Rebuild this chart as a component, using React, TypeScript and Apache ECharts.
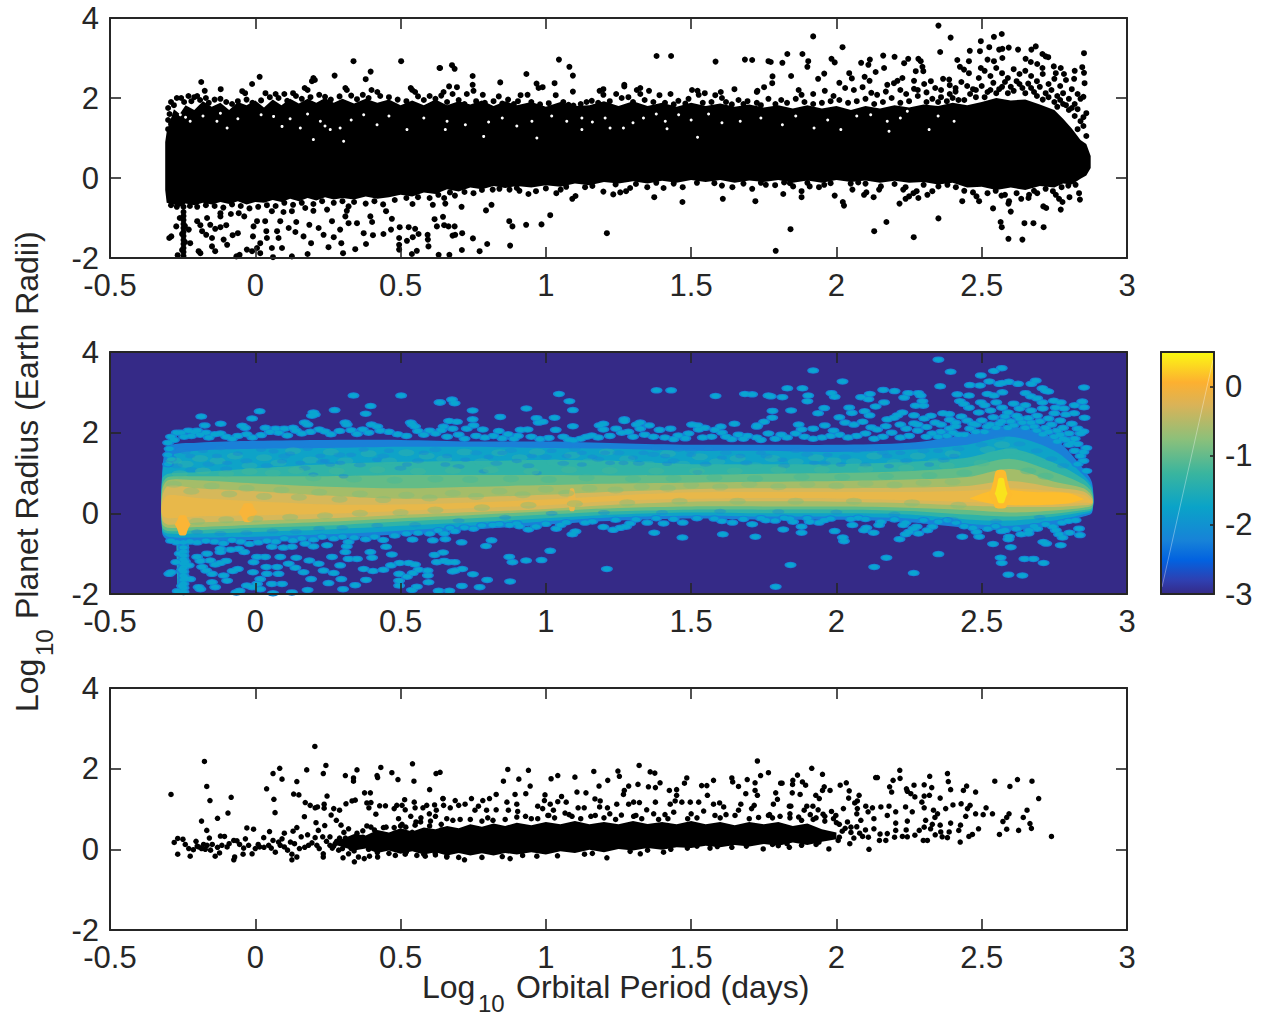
import React, { useEffect, useRef } from "react";
import * as echarts from "echarts";

const FONT = "Liberation Sans";
const INK = "#262626";
const X_TICK_INTERVAL = 0.5;
const Y_TICK_INTERVAL = 2;

// ---- top panel: dense core outline [x, lower, upper]
const TOP_BAND = [
[-0.31,-0.3,0.9],[-0.305,-0.62,1.15],[-0.28,-0.66,1.72],[-0.26,-0.72,1.6],[-0.24,-0.64,1.82],[-0.21,-0.68,1.7],[-0.18,-0.62,1.92],[-0.15,-0.66,1.78],[-0.12,-0.6,1.88],[-0.09,-0.65,1.7],[-0.06,-0.58,1.9],[-0.03,-0.66,1.82],[0,-0.6,1.94],[0.03,-0.62,1.76],[0.06,-0.55,1.96],[0.09,-0.6,1.82],[0.12,-0.52,1.98],[0.15,-0.58,1.86],[0.18,-0.5,1.98],[0.21,-0.56,1.88],[0.24,-0.48,2],[0.27,-0.54,1.88],[0.3,-0.5,1.98],[0.34,-0.54,1.86],[0.38,-0.46,1.98],[0.42,-0.52,1.88],[0.46,-0.48,1.96],[0.5,-0.42,1.82],[0.54,-0.46,1.94],[0.58,-0.36,1.82],[0.62,-0.4,1.96],[0.66,-0.28,1.82],[0.7,-0.34,1.92],[0.74,-0.24,1.84],[0.78,-0.28,1.94],[0.82,-0.2,1.8],[0.86,-0.25,1.92],[0.9,-0.2,1.82],[0.95,-0.24,1.9],[1,-0.18,1.78],[1.05,-0.22,1.9],[1.1,-0.14,1.8],[1.15,-0.18,1.82],[1.2,-0.1,1.92],[1.25,-0.14,1.8],[1.3,-0.08,1.92],[1.35,-0.14,1.8],[1.4,-0.07,1.88],[1.45,-0.12,1.78],[1.5,-0.05,1.88],[1.55,-0.1,1.8],[1.6,-0.05,1.86],[1.65,-0.12,1.78],[1.7,-0.06,1.84],[1.75,-0.1,1.76],[1.8,-0.05,1.82],[1.85,-0.12,1.74],[1.9,-0.06,1.82],[1.95,-0.12,1.74],[2,-0.05,1.8],[2.05,-0.1,1.7],[2.1,-0.06,1.8],[2.15,-0.12,1.74],[2.2,-0.07,1.82],[2.25,-0.12,1.76],[2.3,-0.1,1.84],[2.35,-0.16,1.8],[2.4,-0.12,1.88],[2.45,-0.24,1.82],[2.5,-0.22,1.9],[2.55,-0.3,2],[2.6,-0.24,1.94],[2.65,-0.3,1.96],[2.7,-0.2,1.84],[2.75,-0.24,1.7],[2.78,-0.14,1.48],[2.81,-0.16,1.24],[2.84,-0.02,0.95],[2.86,0.06,0.85],[2.875,0.25,0.55]
];

// ---- top panel: individually visible planets
const TOP_UPPER = [
[0.338,2.92],[0.502,2.92],[0.634,2.75],[0.015,2.53],[-0.011,2.35],[-0.186,2.4],[0.2,2.5],[0.205,2.45],[0.195,2.42],[0.273,2.56],[0.397,2.66],[0.38,2.47],[-0.174,2.18],[-0.119,2.22],[0.31,2.25],[0.315,2.2],[0.4,2.2],[0.42,2.15],[0.535,2.25],[0.54,2.2],[0.55,2.15],[-0.045,2.17],[-0.035,2.12],[0.17,2.25],[0.18,2.2],[0.07,2.1],[0.035,2.12],[0.1,2.1],[0.13,2.12],
[-0.23,2.05],[-0.21,2.02],[-0.2,2.05],[-0.17,2],[-0.27,2],[-0.255,2],[-0.29,1.9],[-0.28,1.82],[-0.245,1.9],[-0.22,1.92],[-0.19,1.95],[-0.16,1.88],[-0.14,1.96],[-0.12,1.98],[-0.1,1.9],[-0.08,1.85],[-0.06,1.92],[-0.03,1.96],[-0.01,1.88],[0.02,1.94],[0.05,2.02],[0.08,2],[0.11,1.93],[0.14,2.05],[0.16,1.98],[0.19,2.02],[0.22,2.08],[0.24,2.03],[0.26,1.96],[0.29,2.04],[0.33,2.06],[0.35,1.97],[0.37,2.08],[0.39,2],[0.43,2.05],[0.46,2.02],[0.49,1.96],[0.52,1.92],[0.56,2.04],[0.58,1.95],[0.6,2.05],[0.62,1.98],[0.64,2.06],
[-0.3,1.75],[-0.295,1.6],[-0.3,1.45],[-0.29,1.35],[-0.3,1.22],
[0.636,2.75],[0.677,2.82],[0.686,2.73],[0.748,2.55],[0.667,2.29],[0.694,2.27],[0.748,2.33],[0.679,2.1],[0.843,2.39],[0.933,2.6],[0.968,2.36],[0.975,2.25],[0.989,2.27],[1.03,2.37],[1.045,2.96],[1.081,2.78],[1.093,2.56],[1.093,2.16],[1.381,3.05],[1.431,3.05],[1.584,2.91],[1.685,2.96],[1.71,2.95],[1.766,2.92],[1.774,2.9],[1.78,2.54],[1.751,2.27],[1.779,2.37],[1.649,2.22],[1.726,2.15],[1.728,2.18],[1.27,2.29],[1.27,2.33],[1.325,2.25],[1.313,2.2],[1.355,2.18],[1.198,2.22],[1.185,2.18],[1.429,2.1],[1.391,2.07],[1.503,2.2],[1.522,2.18],[1.547,2.12],[1.602,2.15],[1.766,1.98],[0.751,2.18],[0.783,2.08],[0.728,2.1],[0.913,2.07],[0.937,2.08],[1.034,2.07],[1.198,2.08],[1.242,2.1],[1.325,2.1],[1.583,2.07],[1.606,2],[1.526,2.08],[0.87,1.96],[0.838,2.04],[0.82,1.92],[0.904,1.92],[0.648,2.15],[1.158,1.93],[1.261,2],[1.284,2.02],[1.37,1.9],[1.456,1.93],[1.491,1.98],[1.663,1.95],[1.694,1.92],[1.726,1.88],[1.078,1.83],[1.095,1.81],
[0.66,1.9],[0.7,1.95],[0.72,1.85],[0.76,1.92],[0.79,1.88],[0.85,1.86],[0.89,1.85],[0.95,1.9],[0.98,1.84],[1.01,1.87],[1.06,1.9],[1.12,1.85],[1.14,1.9],[1.18,1.88],[1.22,1.92],[1.3,1.9],[1.34,1.95],[1.41,1.88],[1.44,1.84],[1.48,1.86],[1.54,1.88],[1.57,1.9],[1.62,1.9],[1.64,1.84],[1.68,1.85],[1.74,1.82],[1.79,1.85],[1.81,1.95],[1.83,1.88],[1.86,1.98],[1.89,1.9],[1.92,1.85],[1.95,1.88],[1.98,1.92],[2.01,1.95],[2.04,1.88],[2.07,1.92],[2.1,1.98],[2.13,1.85],[2.16,1.9],[2.19,2],[2.22,1.88],[2.25,1.92],[2.28,2.05],[2.31,1.9],[2.33,1.98],[2.36,2.02],[2.39,2.1],[2.41,2.16],
[2.351,3.81],[1.92,3.54],[2.393,3.51],[2.021,3.27],[2.497,3.42],[2.542,3.53],[2.569,3.6],[2.357,3.15],[2.459,3.18],[2.526,3.27],[2.494,3.17],[2.56,3.21],[2.571,3.23],[2.593,3.26],[2.625,3.21],[2.686,3.29],[2.671,3.21],[2.852,3.12],[1.883,3.1],[1.831,3.1],[1.814,2.88],[1.903,2.92],[1.9,2.78],[1.983,2.98],[1.994,2.89],[2.085,2.88],[2.115,2.96],[2.11,2.83],[2.161,3.06],[2.2,3.03],[2.247,2.98],[2.233,2.87],[2.282,2.98],[2.29,2.92],[2.273,2.67],[2.296,2.78],[2.299,2.67],[2.164,2.75],[2.135,2.65],[2.044,2.62],[2.053,2.49],[2.097,2.53],[2.114,2.43],[1.958,2.61],[1.937,2.48],[1.844,2.55],[2.227,2.5],[2.21,2.43],[2.198,2.37],[2.175,2.33],[2.267,2.43],[2.267,2.23],[2.302,2.35],[2.325,2.42],[2.367,2.48],[2.388,2.46],[2.416,2.95],[2.456,2.92],[2.425,2.78],[2.439,2.71],[2.456,2.62],[2.542,2.92],[2.52,2.96],[2.571,3],[2.651,2.98],[2.669,2.9],[2.691,2.85],[2.709,3.1],[2.72,3.04],[2.729,3.02],[2.748,2.79],[2.772,2.75],[2.709,2.75],[2.82,2.68],[2.846,2.77],[2.852,2.63],[2.818,2.48],[2.854,2.37],[2.783,2.6],[2.755,2.62],[2.497,2.75],
[2.01,2.38],[2.03,2.25],[2.06,2.2],[2.09,2.27],[2.12,2.13],[1.87,2.2],[1.88,2.08],[1.92,2.1],[1.96,2.18],[1.99,2.05],[2.14,2.08],[2.17,2.16],[2.22,2.2],[2.24,2.1],[2.28,2.2],[2.31,2.14],[2.34,2.25],[2.36,2.2],[2.39,2.32],[2.41,2.25],[2.43,2.4],[2.45,2.3],[2.47,2.22],[2.49,2.5],[2.51,2.68],[2.53,2.55],[2.55,2.75],[2.57,2.62],[2.59,2.5],[2.61,2.72],[2.63,2.6],[2.65,2.68],[2.67,2.55],[2.69,2.42],[2.71,2.6],[2.73,2.35],[2.75,2.48],[2.77,2.3],[2.79,2.45],[2.81,2.22],[2.83,2.1],[2.85,2.03],
[2.44,1.95],[2.46,2.1],[2.48,2.02],[2.5,2.3],[2.52,2.15],[2.54,2.38],[2.56,2.22],[2.58,2.4],[2.6,2.28],[2.62,2.42],[2.64,2.25],[2.66,2.36],[2.68,2.15],[2.7,2.28],[2.72,2.12],[2.74,2.2],[2.76,2.05],[2.78,2.12],[2.8,1.98],[2.82,1.85],[2.84,1.98],[2.86,1.62],[2.85,1.52],[2.84,1.42],[2.82,1.55],[2.8,1.7],[2.78,1.85],[2.76,1.78],[2.85,1.3],[2.83,1.22],[2.86,1.05],
[2.51,2.02],[2.53,2.2],[2.55,2.12],[2.57,2.28],[2.59,2.12],[2.61,2.18],[2.63,2.35],[2.65,2.12],[2.67,2.25],[2.69,2.05],[2.71,1.96],[2.73,2.02],[2.75,1.9],[2.77,1.95],[2.79,1.82],[2.81,1.75],[2.83,1.72],[2.48,2.2],[2.42,1.95],[2.4,2],[2.38,1.92],[2.35,1.9]
];
const TOP_LOWER = [
[0.65,-0.5],[0.654,-0.64],[0.687,-0.44],[0.71,-0.72],[0.646,-0.97],[0.65,-1.18],[0.665,-1.21],[0.686,-1.21],[0.679,-1.44],[0.688,-1.42],[0.712,-1.38],[0.749,-1.51],[0.711,-1.8],[0.668,-1.92],[0.772,-1.83],[0.798,-1.65],[0.877,-1.69],[0.794,-0.81],[0.813,-0.67],[0.874,-1.08],[0.885,-1.21],[0.932,-1.17],[0.985,-1.16],[1.015,-0.93],[1.091,-0.52],[1.102,-0.45],[1.21,-1.38],[1.232,-0.41],[1.198,-0.34],[1.256,-0.36],[1.276,-0.33],[1.29,-0.25],[1.373,-0.48],[1.47,-0.6],[1.609,-0.52],[1.721,-0.58],[1.791,-1.82],[0.94,-0.4],[0.966,-0.33],[1.036,-0.38],[1.051,-0.29],[0.751,-0.38],[0.817,-0.29],[0.875,-0.29],[0.909,-0.32],[1.135,-0.23],[1.349,-0.23],[1.405,-0.25],[1.471,-0.23],[1.606,-0.19],[1.642,-0.23],[1.71,-0.27],[1.757,-0.17],[1.789,-0.18],
[2.351,-1.01],[1.842,-1.28],[2.13,-1.33],[2.172,-1.1],[2.266,-1.48],[2.565,-1.1],[2.569,-1.23],[2.592,-1.52],[2.64,-1.54],[2.647,-1.13],[2.678,-1.13],[2.713,-1.23],[2.6,-0.84],[2.539,-0.76],[2.433,-0.58],[2.491,-0.58],[2.482,-0.46],[2.594,-0.58],[2.592,-0.64],[2.636,-0.52],[2.663,-0.42],[2.661,-0.5],[2.691,-0.38],[2.712,-0.71],[2.722,-0.75],[2.772,-0.79],[2.778,-0.6],[2.766,-0.52],[2.755,-0.42],[2.745,-0.33],[2.802,-0.48],[2.838,-0.54],[2.835,-0.38],[2.775,-0.23],[2.798,-0.19],[2.823,-0.17],[2.568,-0.44],[2.548,-0.32],
[1.88,-0.48],[1.88,-0.33],[1.851,-0.21],[1.908,-0.21],[1.94,-0.23],[1.958,-0.17],[1.817,-0.4],[1.82,-0.11],[1.994,-0.44],[2.022,-0.6],[2.026,-0.69],[2.055,-0.29],[2.049,-0.14],[2.075,-0.11],[2.095,-0.42],[2.103,-0.36],[2.128,-0.48],[2.153,-0.21],[2.147,-0.29],[2.217,-0.64],[2.238,-0.52],[2.25,-0.46],[2.265,-0.38],[2.276,-0.33],[2.282,-0.5],[2.238,-0.23],[2.23,-0.29],[2.313,-0.42],[2.33,-0.33],[2.351,-0.21],[2.382,-0.17],[2.411,-0.23],
[-0.296,-1.5],[-0.289,-1.46],[-0.272,-1.21],[-0.267,-1.93],[-0.26,-1],[-0.224,-1.63],[-0.229,-1.29],[-0.2,-1.08],[-0.189,-1.18],[-0.183,-1.33],[-0.169,-1.42],[-0.195,-1.83],[-0.189,-1.88],[-0.149,-1.5],[-0.138,-1.83],[-0.149,-1.71],[-0.155,-1.17],[-0.138,-1.27],[-0.12,-1.23],[-0.1,-1.18],[-0.166,-1],[-0.12,-0.96],[-0.084,-0.9],[-0.109,-1.54],[-0.097,-1.67],[-0.078,-1.43],[-0.06,-1.38],[-0.065,-1.96],[-0.054,-1.92],[-0.029,-1.79],[-0.011,-1.83],[0.006,-1.75],[0.017,-1.63],[-0.008,-1.46],[0.038,-1.33],[0.075,-1.33],[0.08,-1.5],[0.04,-1.5],[0.057,-1.75],[0.092,-1.75],[0.017,-1.88],[0.061,-1.98],[0.126,-1.96],[0.18,-1.9],[0.252,-1.73],[0.302,-1.88],[0.344,-1.78],[0.381,-1.65],[0.296,-1.63],[0.192,-1.63],[0.166,-1.46],[0.138,-1.35],[0.115,-1.25],[0.086,-1.08],[0.141,-1.1],[0.186,-1.17],[0.218,-1.25],[0.235,-1.42],[0.264,-1.08],[0.27,-1.48],[0.292,-1.29],[0.321,-1.13],[0.35,-1.13],[0.373,-1.38],[0.405,-1.43],[0.441,-1.4],[0.467,-1.29],[0.497,-1.23],[0.528,-1.23],[0.55,-1.27],[0.562,-1.4],[0.542,-1.48],[0.522,-1.57],[0.495,-1.5],[0.495,-1.67],[0.495,-1.79],[0.556,-1.82],[0.539,-1.9],[0.596,-1.71],[0.593,-1.42],[0.594,-1.54],[0.631,-1.92],[0.625,-1.21],[0.617,-1.03],[0.611,-0.67],[0.541,-0.65],[0.47,-1.02],[0.45,-0.83],[0.396,-0.96],[0.402,-1.1],[0.31,-0.96],[0.315,-0.82],[0.321,-0.71],[0.247,-0.79],[0.2,-0.82],[0.172,-0.75],[0.126,-0.83],[0.097,-0.85],[0.057,-0.83],[0.034,-1.08],[0.006,-1.08],[-0.006,-1.21],[-0.038,-0.96],[-0.057,-0.88],[-0.12,-0.88],
[-0.29,-0.68],[-0.27,-0.72],[-0.225,-0.7],[-0.2,-0.72],[-0.17,-0.68],[-0.14,-0.7],[-0.11,-0.74],[-0.08,-0.66],[-0.05,-0.7],[-0.02,-0.76],[0.01,-0.72],[0.04,-0.68],[0.07,-0.7],[0.1,-0.62],[0.13,-0.67],[0.16,-0.62],[0.2,-0.65],[0.23,-0.58],[0.27,-0.62],[0.3,-0.58],[0.34,-0.6],[0.38,-0.64],[0.41,-0.58],[0.44,-0.66],[0.48,-0.55],[0.52,-0.5],[0.56,-0.48],[0.6,-0.5],[0.63,-0.42],[0.67,-0.36],[0.72,-0.35],[0.78,-0.3],[0.84,-0.27],[0.9,-0.25],[1,-0.26],[1.07,-0.22],[1.16,-0.2],[1.24,-0.16],[1.31,-0.15],[1.38,-0.12],[1.44,-0.14],[1.52,-0.12],[1.58,-0.13],[1.68,-0.14],[1.74,-0.12],[1.84,-0.13],[1.9,-0.12],[1.98,-0.13],[2.1,-0.14],[2.2,-0.15],[2.3,-0.17],[2.44,-0.32],[2.47,-0.36],[2.52,-0.38],[2.58,-0.42],[2.62,-0.38],[2.68,-0.32],[2.72,-0.27]
];
const TOP_COLUMN = [
[-0.247,-0.72],[-0.247,-0.85],[-0.247,-0.95],[-0.247,-1.05],[-0.247,-1.15],[-0.247,-1.25],[-0.247,-1.35],[-0.247,-1.45],[-0.247,-1.55],[-0.247,-1.65],[-0.247,-1.75],[-0.247,-1.85],[-0.247,-1.95],[-0.242,-1.6],[-0.242,-1.2],[-0.252,-1.4],[-0.252,-1.8]
];
// small holes in the dense cloud where no planet covers the background
const TOP_GAPS = [
[0.063,1.54],[0.224,1.42],[0.258,1.21],[0.292,1.25],[0.092,1.29],[0.155,1.25],[0.2,0.96],[0.304,0.92],[0.419,1.33],[0.373,1.58],[0.522,1.21],[-0.132,1.42],[-0.224,1.42],[-0.097,1.25],[-0.258,1.58],[1.072,1.42],[1.124,1.21],[1.124,1.5],[0.952,1.42],[0.803,1.4],[0.654,1.21],[0.723,1.33],[1.204,1.5],[1.221,1.25],[1.267,1.25],[1.336,1.5],[1.411,1.42],[1.417,1.23],[1.457,1.58],[1.606,1.38],[1.669,1.42],[1.522,1.02],[0.786,1.04],[0.969,1],[2.118,1.58],[2.175,1.42],[2.181,1.17],[1.923,1.25],[1.814,1.33],[2.015,1.21],[2.319,1.21],[2.405,1.42],[2.244,1.67],
[-0.24,1.52],[-0.18,1.55],[-0.12,1.62],[-0.06,1.48],[0.02,1.58],[0.12,1.48],[0.18,1.6],[0.24,1.3],[0.33,1.45],[0.46,1.55],[0.58,1.5],[0.66,1.42],[0.85,1.5],[0.9,1.3],[1.02,1.55],[1.16,1.4],[1.3,1.38],[1.38,1.6],[1.5,1.45],[1.56,1.6],[1.74,1.5],[1.86,1.55],[1.97,1.45],[2.07,1.55],[2.22,1.5],[2.35,1.55]
];

// ---- middle panel: density levels (shared x knots)
const LEVEL_X = [-0.32,-0.3,-0.2,0,0.25,0.5,0.75,1,1.25,1.5,1.75,2,2.25,2.45,2.6,2.75,2.85,2.88];
const LEVEL_A_HI = [1.05,1.65,1.75,1.8,1.82,1.82,1.78,1.78,1.74,1.7,1.7,1.7,1.75,1.95,2.15,1.85,1.1,0.75];
const LEVEL_A_LO = [-0.5,-0.66,-0.68,-0.66,-0.62,-0.52,-0.4,-0.28,-0.18,-0.13,-0.16,-0.16,-0.22,-0.36,-0.42,-0.28,-0.08,0.02];
const LEVEL_B_HI = [0.95,1.4,1.55,1.6,1.62,1.65,1.65,1.62,1.6,1.55,1.55,1.52,1.58,1.7,1.9,1.55,0.95,0.65];
const LEVEL_B_LO = [-0.45,-0.58,-0.6,-0.58,-0.52,-0.43,-0.32,-0.2,-0.1,-0.06,-0.08,-0.08,-0.13,-0.26,-0.31,-0.18,-0.02,0.06];
const LEVEL_C_HI = [0.85,0.98,1.02,1.12,1.22,1.28,1.3,1.32,1.3,1.22,1.22,1.22,1.28,1.38,1.6,1.25,0.85,0.58];
const LEVEL_C_LO = [-0.4,-0.5,-0.5,-0.46,-0.4,-0.31,-0.22,-0.12,-0.03,0.02,0,0,-0.03,-0.15,-0.18,-0.08,0.03,0.1];
const LEVEL_D_HI = [0.7,0.9,0.92,0.92,0.92,0.95,0.95,0.95,0.94,0.95,0.98,1,1.05,1.15,1.35,1.02,0.72,0.5];
const LEVEL_D_LO = [-0.34,-0.44,-0.42,-0.36,-0.3,-0.2,-0.12,-0.03,0.05,0.09,0.09,0.09,0.06,-0.03,-0.08,-0.01,0.08,0.14];
const LEVEL_E_HI = [0.58,0.82,0.82,0.74,0.66,0.62,0.66,0.7,0.74,0.76,0.78,0.8,0.84,0.9,1.1,0.78,0.62,0.42];
const LEVEL_E_LO = [-0.26,-0.36,-0.34,-0.28,-0.21,-0.12,-0.04,0.05,0.13,0.17,0.17,0.17,0.14,0.08,0.02,0.07,0.14,0.2];
const LEVEL_F_HI = [0.42,0.68,0.62,0.55,0.44,0.36,0.4,0.46,0.54,0.6,0.62,0.62,0.64,0.68,0.8,0.64,0.54,0.36];
const LEVEL_F_LO = [-0.16,-0.28,-0.23,-0.18,-0.12,-0.04,0.03,0.11,0.22,0.29,0.3,0.29,0.25,0.19,0.16,0.16,0.2,0.24];
const LEVEL_G_HI = [0.25,0.45,0.38,0.3,0.22,0.22,0.27,0.34,0.44,0.52,0.53,0.53,0.53,0.56,0.62,0.55,0.46,0.3];
const LEVEL_G_LO = [-0.05,-0.12,-0.08,-0.05,-0.01,0.06,0.13,0.2,0.31,0.36,0.38,0.37,0.33,0.28,0.24,0.22,0.26,0.26];

// blotches of the density field
const MOTTLE_DARK = [
[-0.27,1.18],[-0.22,1.08],[-0.16,1.22],[-0.1,1.1],[-0.03,1.3],[0.04,1.18],[0.1,1.42],[0.17,1.12],[0.23,1.28],[0.29,1.45],[0.36,1.2],[0.44,1.42],[0.5,1.12],[0.56,1.3],[0.62,1.58],[0.7,1.16],[0.76,1.5],[0.83,1.24],[0.88,1.56],[0.94,1.18],[1,1.4],[1.06,1.24],[1.1,1.6],[1.18,1.34],[1.25,1.5],[1.32,1.24],[1.37,1.46],[1.44,1.3],[1.5,1.55],[1.55,1.22],[1.62,1.5],[1.69,1.25],[1.76,1.42],[1.82,1.18],[1.9,1.46],[1.96,1.24],[2.03,1.4],[2.1,1.2],[2.16,1.5],[2.24,1.3],[2.3,1.55],[2.37,1.32],[2.42,1.6],[2.5,1.7],[2.56,1.88],[2.63,1.72],[2.69,1.55],[2.74,1.35],[2.78,1.18],
[-0.2,-0.46],[-0.12,-0.5],[-0.03,-0.48],[0.06,-0.44],[0.14,-0.45],[0.22,-0.38],[0.3,-0.36],[0.42,-0.3],[0.55,-0.28],[0.7,-0.18],[0.86,-0.1],[1.02,0],[1.2,0.02],[1.4,0.02],[1.6,0.05],[1.8,0.04],[2,0.03],[2.2,-0.02],[2.4,-0.15],[2.55,-0.2],[2.7,-0.1]
];
const MOTTLE_LIGHT = [
[-0.28,1.3],[-0.24,1.22],[-0.19,1.36],[-0.13,1.3],[-0.07,1.42],[-0.02,1.18],[0.03,1.38],[0.08,1.25],[0.13,1.55],[0.19,1.32],[0.26,1.52],[0.31,1.3],[0.39,1.48],[0.46,1.3],[0.52,1.5],[0.59,1.42],[0.65,1.35],[0.72,1.52],[0.78,1.28],[0.84,1.5],[0.91,1.38],[0.97,1.52],[1.03,1.26],[1.09,1.44],[1.15,1.28],[1.21,1.52],[1.28,1.35],[1.35,1.22],[1.42,1.48],[1.47,1.22],[1.53,1.4],[1.59,1.28],[1.66,1.36],[1.72,1.18],[1.78,1.36],[1.86,1.28],[1.93,1.38],[1.99,1.3],[2.06,1.28],[2.13,1.42],[2.2,1.26],[2.28,1.42],[2.34,1.28],[2.4,1.48],[2.46,1.3],[2.52,1.58],[2.57,1.7],[2.6,1.55],[2.66,1.4],[2.72,1.22]
];
const MOTTLE_GREEN = [
[-0.26,0.98],[-0.18,1.05],[-0.1,0.98],[-0.02,1.04],[0.06,1],[0.14,1.06],[0.2,0.88],[0.28,1.05],[0.34,0.85],[0.42,1.08],[0.48,0.82],[0.56,1.04],[0.62,0.85],[0.68,1.06],[0.74,0.84],[0.81,1.08],[0.88,0.86],[0.95,1.04],[1.01,0.84],[1.08,1.08],[1.14,0.88],[1.22,1.06],[1.3,0.85],[1.38,1.05],[1.44,0.86],[1.52,1.05],[1.58,0.88],[1.65,1.05],[1.72,0.86],[1.8,1.08],[1.88,0.9],[1.95,1.08],[2.02,0.9],[2.1,1.1],[2.17,0.92],[2.24,1.12],[2.32,0.94],[2.38,1.18],[2.44,1],[2.5,1.25],[2.66,1.05],[2.72,0.92]
];
const MOTTLE_WARM = [
[-0.28,0.72],[-0.22,0.55],[-0.15,0.68],[-0.09,0.48],[-0.03,0.62],[0.03,0.42],[0.09,0.58],[0.15,0.4],[0.22,0.52],[0.29,0.35],[0.36,0.48],[0.44,0.34],[0.52,0.45],[0.6,0.38],[0.68,0.5],[0.76,0.42],[0.84,0.55],[0.92,0.46],[1,0.6],[1.07,0.5],[1.15,0.62],[1.24,0.58],[1.33,0.66],[1.42,0.62],[1.5,0.7],[1.6,0.65],[1.7,0.72],[1.8,0.66],[1.9,0.72],[2,0.68],[2.1,0.74],[2.2,0.7],[2.3,0.76],[2.4,0.78],
[-0.2,-0.2],[-0.1,-0.16],[0,-0.14],[0.12,-0.1],[0.24,-0.06],[0.36,0],[0.5,0.02],[0.62,0.08],[0.78,0.14],[0.94,0.2],[1.1,0.24],[1.28,0.26],[1.46,0.3],[1.66,0.3],[1.86,0.3],[2.06,0.3],[2.26,0.26],[2.42,0.2]
];

// vertical stream and local maxima of the density
const STREAM_X = [-0.272,-0.268,-0.232,-0.228];
const STREAM_HI = [-0.5,-0.5,-0.5,-0.5];
const STREAM_LO = [-0.6,-2.05,-2.05,-0.6];
const STREAM_CORE_X = [-0.258,-0.255,-0.245,-0.242];
const STREAM_CORE_HI = [-0.5,-0.5,-0.5,-0.5];
const STREAM_CORE_LO = [-0.6,-1.5,-1.5,-0.6];
const HOT1_X = [-0.275,-0.25,-0.225];
const HOT1_HI = [-0.25,-0.05,-0.25];
const HOT1_LO = [-0.3,-0.55,-0.3];
const HOT2_X = [-0.055,-0.025,0.005];
const HOT2_HI = [0.05,0.25,0.05];
const HOT2_LO = [0,-0.22,0];
const HOT3_X = [1.075,1.09,1.105];
const HOT3_HI = [0.32,0.62,0.32];
const HOT3_LO = [0.25,0.05,0.25];
const RIDGE_X = [2.46,2.55,2.68,2.8,2.85];
const RIDGE_HI = [0.38,0.58,0.53,0.5,0.36];
const RIDGE_LO = [0.36,0.22,0.2,0.25,0.34];
const SPIKE_OUT_X = [2.53,2.565,2.6];
const SPIKE_OUT_HI = [0.55,1.08,0.55];
const SPIKE_OUT_LO = [0.4,0.12,0.4];
const SPIKE_IN_X = [2.548,2.567,2.586];
const SPIKE_IN_HI = [0.55,0.88,0.55];
const SPIKE_IN_LO = [0.45,0.25,0.45];

// ---- bottom panel: dense core outline [x, lower, upper]
const BOT_BAND = [
[0.28,0.1,0.2],[0.34,-0.03,0.38],[0.38,0.02,0.34],[0.42,-0.09,0.48],[0.46,-0.03,0.42],[0.5,-0.11,0.52],[0.54,-0.05,0.44],[0.58,-0.13,0.54],[0.62,-0.07,0.5],[0.66,-0.15,0.58],[0.7,-0.09,0.52],[0.74,-0.15,0.62],[0.78,-0.1,0.56],[0.82,-0.15,0.64],[0.86,-0.09,0.58],[0.9,-0.13,0.66],[0.95,-0.07,0.6],[1,-0.13,0.68],[1.05,-0.05,0.62],[1.1,-0.09,0.7],[1.15,-0.01,0.62],[1.2,-0.07,0.68],[1.25,0.01,0.62],[1.3,-0.03,0.7],[1.35,0.03,0.63],[1.4,-0.01,0.68],[1.45,0.05,0.62],[1.5,0.03,0.7],[1.55,0.09,0.62],[1.6,0.05,0.68],[1.65,0.11,0.6],[1.7,0.07,0.68],[1.75,0.13,0.62],[1.8,0.09,0.68],[1.85,0.17,0.58],[1.9,0.11,0.64],[1.95,0.19,0.5],[2,0.25,0.42]
];
const BOT_LEFT = [
[0.205,2.55],[-0.175,2.18],[-0.29,1.36],[-0.167,1.56],[-0.156,1.21],[-0.083,1.29],[-0.094,0.9],[-0.13,0.77],[-0.185,0.7],[-0.167,0.47],[0.039,1.5],[0.064,1.24],[0.068,0.91],[0.061,1.88],[0.084,2.01],[0.092,1.74],[0.143,1.68],[0.177,1.97],[0.234,1.88],[0.243,2.08],[0.132,1.37],[0.15,1.35],[0.172,1.16],[0.189,1.09],[0.206,1.03],[0.214,1.05],[0.237,1.12],[0.237,1.02],[0.247,1.32],[0.169,0.81],[0.209,0.66],[0.239,0.59],[0.217,0.47],[0.27,1.01],[0.29,0.97],[0.261,0.85],[0.279,0.72],[0.295,0.6],[0.31,1.83],[0.338,1.77],[0.338,1.69],[0.35,1.97],[0.312,1.13],[0.333,1.2],[0.344,1.22],[0.376,1.4],[0.396,1.4],[0.419,1.83],[0.421,1.78],[0.432,2.03],[0.47,1.9],[0.491,1.73],[0.541,2.12],[0.546,1.69],[0.6,1.48],[0.622,1.88],[0.636,1.91],[0.646,1.26],[0.384,1.15],[0.398,1.16],[0.391,1.03],[0.428,1.08],[0.448,1.08],[0.415,0.87],[0.478,1.01],[0.487,1.09],[0.514,1.23],[0.505,1.09],[0.516,0.98],[0.547,1.17],[0.55,1.03],[0.577,1.03],[0.59,1.09],[0.617,1.1],[0.623,0.97],[0.648,1.09],[0.599,0.88],[0.62,0.82],[0.535,0.82],[0.57,0.78],[0.493,0.76],[0.569,0.68],[0.553,0.68],[0.505,0.62],[0.603,0.7],[-0.029,0.53],[-0.006,0.5],[0.049,0.44],[0.1,0.4],[0.13,0.45],[0.143,0.54],[0.384,0.58],[0.398,0.55],[0.321,0.51],[0.441,0.54],[0.478,0.54],[0.518,0.55],
[-0.267,-0.12],[-0.279,0.17],[-0.267,0.27],[-0.249,0.25],[-0.241,0.12],[-0.229,0.02],[-0.224,-0.17],[-0.204,0.2],[-0.213,-0.01],[-0.195,0.06],[-0.178,0.12],[-0.166,0.1],[-0.158,0.28],[-0.154,-0.02],[-0.138,-0.17],[-0.123,-0.09],[-0.12,0.33],[-0.106,0.32],[-0.115,0.1],[-0.097,0.06],[-0.074,0.22],[-0.063,0.21],[-0.071,-0.19],[-0.074,-0.26],[-0.042,-0.12],[-0.054,0.12],[-0.034,0.26],[-0.023,0.1],[-0.011,-0.11],[0,0.02],[0.015,0.06],[0.029,0.29],[0.046,0.1],[0.061,0.22],[0.069,-0.07],[0.086,0.1],[0.092,0.26],[0.111,-0.02],[0.121,0.18],[0.126,-0.12],[0.126,-0.26],[0.143,-0.19],[0.152,0.02],[0.158,0.31],[0.18,0.36],[0.183,0.1],[0.206,0.29],[0.212,0.1],[0.232,0.31],[0.234,-0.11],[0.234,-0.19],[0.257,0.31],[0.257,0.1],[0.275,0.14],[0.287,-0.02],[0.302,-0.21],[0.321,-0.11],[0.341,-0.31],[0.355,-0.19],[0.375,-0.23],[0.393,-0.17],[0.421,-0.19],[0.482,-0.15],[0.516,-0.12],[0.556,-0.15],[0.585,-0.17],[0.619,-0.09],[0.659,-0.19],
[-0.2,0.08],[-0.185,0.02],[-0.172,0],[-0.148,0.12],[-0.13,0.05],[-0.09,0.14],[-0.04,0.03],[0.01,0.12],[0.03,0.05],[0.055,0.03],[0.08,0.18],[0.1,0.06],[0.135,0.14],[0.17,0.05],[0.195,0.16],[0.22,0.02],[0.245,0.2],[0.265,0.03],[0.29,0.28],[0.305,0.42],[0.33,0.02],[0.35,0.4],[0.37,0.46],[0.41,0.48],[0.45,0.55],[0.5,0.58],[0.55,0.6],[0.6,0.58],[0.64,0.62],
[0.27,0.08],[0.28,0.2],[0.3,0.02],[0.31,0.28],[0.33,0.16],[0.34,-0.04],[0.36,0.1],[0.37,0.3],[0.39,0],[0.4,0.22],[0.42,-0.08],[0.44,0.3],[0.46,-0.1],[0.48,0.4],[0.52,-0.06],[0.54,0.42],[0.58,-0.12],[0.62,-0.14],[0.64,0.48]
];
const BOT_UPPER = [
[0.869,1.98],[0.94,1.96],[0.854,1.69],[0.907,1.74],[1.018,1.75],[1.041,1.83],[1.1,1.79],[1.165,1.93],[1.248,1.94],[1.253,1.81],[1.321,2.08],[1.359,1.92],[1.375,1.89],[1.213,1.71],[1.183,1.57],[1.285,1.57],[1.317,1.61],[1.353,1.55],[1.377,1.53],[1.393,1.65],[1.477,1.64],[1.485,1.77],[1.577,1.71],[1.536,1.58],[1.554,1.58],[1.64,1.77],[1.643,1.67],[1.663,1.56],[1.693,1.73],[1.72,1.65],[1.728,2.19],[1.739,1.83],[1.766,1.9],[1.808,1.64],[1.425,1.46],[1.45,1.48],[1.27,1.46],[1.267,1.36],[1.107,1.42],[1.138,1.4],[0.894,1.36],[0.931,1.38],[0.946,1.57],[0.829,1.36],[0.744,1.26],[0.806,1.26],[0.783,1.21],[0.646,1.26],[0.688,1.21],[0.997,1.35],[0.995,1.21],[1.054,1.31],[1.041,1.18],[1.07,1.17],[1.169,1.25],[1.187,1.2],[1.244,1.12],[1.285,1.12],[1.302,1.17],[1.322,1.16],[1.377,1.17],[1.428,1.12],[1.445,1.2],[1.45,1.34],[1.468,1.17],[1.497,1.17],[1.526,1.17],[1.556,1.34],[1.577,1.12],[1.598,1.15],[1.671,1.12],[1.688,1.38],[1.72,1.46],[1.728,1.34],[1.717,1.09],[1.791,1.4],[1.797,1.24],[1.783,1.12],[1.838,1.07],[0.671,1.03],[0.7,1.09],[0.722,1.12],[0.768,1.07],[0.756,0.97],[0.796,0.97],[0.829,0.98],[0.866,1.17],[0.9,1.12],[0.871,0.97],[0.903,0.94],[0.972,1.07],[0.989,1.01],[1.015,1.12],[1.026,0.97],[1.066,0.9],[1.111,1.03],[1.132,1.03],[1.185,1.05],[1.212,1.03],[1.347,0.98],[1.26,0.85],[1.302,0.82],[1.371,0.88],[1.44,0.92],[1.543,0.95],[1.612,1.05],[1.663,0.97],[1.708,1.01],[1.766,0.84],[1.806,0.82],[0.659,0.76],[0.705,0.74],[0.818,0.72],[0.93,0.82],[0.972,0.76],[1.007,0.84],[1.09,0.82],[1.155,0.82],[1.388,0.74],[1.488,0.76],[1.582,0.84],[1.651,0.84],[1.732,0.79],
[0.68,0.72],[0.74,0.74],[0.78,0.7],[0.86,0.74],[0.95,0.76],[1.03,0.78],[1.12,0.76],[1.2,0.78],[1.24,0.74],[1.33,0.76],[1.42,0.76],[1.52,0.78],[1.6,0.78],[1.7,0.76],[1.78,0.78],
[0.8,0.78],[0.9,0.8],[1.01,0.84],[1.08,0.86],[1.17,0.84],[1.22,0.88],[1.31,0.84],[1.41,0.86],[1.5,0.88],[1.62,0.86],[1.77,0.86],[1.84,0.78],[1.88,0.72],[1.92,0.74],[1.96,0.7],[2,0.66],
[1.84,0.88],[1.87,0.8],[1.91,0.86],[1.93,0.78],[1.96,0.82],[1.99,0.76],[2.01,0.62],[2.03,0.52],[2.05,0.42],[2.07,0.56]
];
const BOT_UPPER2 = [
[1.915,2.01],[1.952,1.86],[1.866,1.84],[1.85,1.71],[1.849,1.61],[1.813,1.64],[1.883,1.67],[1.894,1.59],[1.848,1.4],[1.875,1.36],[1.958,1.55],[1.952,1.46],[1.978,1.46],[2.013,1.59],[2.034,1.65],[2.044,1.45],[2.042,1.27],[2.078,1.34],[1.929,1.34],[1.941,1.26],[1.843,1.07],[1.898,1.07],[1.889,0.97],[1.919,1.07],[1.937,0.98],[1.954,0.87],[1.983,0.94],[1.998,0.84],[2.024,1.01],[2.072,1.2],[2.063,1.15],[2.072,1.01],[2.07,0.88],[2.135,1.78],[2.141,1.78],[2.218,1.96],[2.219,1.76],[2.195,1.71],[2.183,1.55],[2.19,1.42],[2.241,1.5],[2.244,1.44],[2.256,1.38],[2.27,1.3],[2.267,1.59],[2.302,1.6],[2.328,1.53],[2.321,1.81],[2.382,1.88],[2.385,1.68],[2.393,1.48],[2.437,1.46],[2.448,1.57],[2.479,1.42],[2.545,1.69],[2.597,1.56],[2.623,1.73],[2.673,1.69],[2.696,1.26],[2.74,0.32],[2.302,1.32],[2.32,1.34],[2.294,1.17],[2.357,1.27],[2.401,1.1],[2.429,1.13],[2.46,1.09],[2.451,1.01],[2.445,0.82],[2.479,0.88],[2.505,0.86],[2.515,1.03],[2.537,0.88],[2.594,0.88],[2.586,0.79],[2.656,0.97],[2.643,0.79],[2.573,0.69],[2.666,0.64],[2.671,0.52],[2.586,0.5],[2.627,0.47],[2.561,0.37],[2.489,0.51],[2.468,0.37],[2.456,0.32],[2.426,0.18],[2.421,0.47],[2.427,0.6],[2.393,0.65],[2.382,0.29],[2.364,0.31],[2.388,0.43],[2.357,0.6],[2.339,0.79],[2.334,0.97],[2.376,1.01],[2.348,0.88],[2.302,1.03],[2.261,0.93],[2.238,1.05],[2.204,0.93],[2.181,1.07],[2.153,1.05],[2.124,1.03],[2.101,1.07],[2.109,0.93],[2.129,0.76],[2.175,0.84],[2.204,0.65],[2.244,0.7],[2.307,0.72],[2.324,0.51],[2.313,0.22],[2.299,0.22],[2.244,0.31],[2.227,0.32],[2.17,0.22],[2.148,0.22],[2.084,0.72],[2.038,0.68],[2.129,0.51],[2.204,0.47],[2.285,0.47],[2.302,0.55],[2.359,0.43],[2.175,0.39],
[2.05,0.55],[2.08,0.4],[2.1,0.48],[2.11,0.3],[2.06,0.28],[2.02,0.45],[2.15,0.38],[2.2,0.3],[2.24,0.48],[2.27,0.35],[2.34,0.36],[2.33,0.62],[2.01,0.3]
];
const BOT_LOWER = [
[1.21,-0.21],[0.72,-0.26],[0.877,-0.23],[0.969,-0.17],[0.659,-0.17],[1.133,-0.12],[1.325,-0.11],[1.405,-0.07],[1.487,0.03],[1.565,0.03],[1.748,0.01],[1.8,0.09],
[2.112,0],[2.046,0.14],[1.974,0.01],[1.94,0.18],[1.9,0.22],[1.838,0.05],[2.006,0.22],[2.09,0.32],
[0.7,-0.2],[0.78,-0.2],[0.85,-0.18],[0.92,-0.15],[1.04,-0.16],[1.16,-0.1],[1.29,-0.05],[1.35,-0.02],[1.43,0],[1.52,0.08],[1.59,0.07],[1.64,0.05],[1.69,0.08],[1.78,0.12],[1.83,0.14],[1.88,0.1],[1.93,0.12]
];

// ---- colour bar
const CB_MIN = -3;
const CB_MAX = 0.507;

const HEAT_BG = "#352a87";
const PARULA_STOPS = [
  [0, "#352a87"],[0.055, "#2f3fb0"],[0.14, "#0262e0"],[0.22, "#1782d8"],[0.36, "#0aa3c8"],[0.5, "#3ab59e"],[0.64, "#8cc07a"],[0.78, "#d9b358"],[0.875, "#fdb030"],[0.97, "#fce81a"],[1, "#f8fa0d"],
];

const GRIDS = [
  { left: 110, top: 18, width: 1017, height: 240 },
  { left: 110, top: 352, width: 1017, height: 242 },
  { left: 110, top: 688, width: 1017, height: 242 },
  { left: 1161, top: 352, width: 53, height: 242 },
];

function polySeries(g: number, xs: number[], lo: number[], hi: number[], fill: string, smooth = 0.3) {
  return {
    type: "custom",
    xAxisIndex: g * 2,
    yAxisIndex: g * 2,
    silent: true,
    clip: true,
    data: [[xs[0], lo[0]]],
    renderItem: (_p: any, api: any) => {
      const upper = xs.map((x, i) => api.coord([x, hi[i]]));
      const lower = xs.map((x, i) => api.coord([x, lo[i]])).reverse();
      return { type: "polygon", shape: { points: upper.concat(lower), smooth }, style: { fill } };
    },
  };
}

function bandSeries(g: number, band: number[][], fill: string) {
  return polySeries(g, band.map((b) => b[0]), band.map((b) => b[1]), band.map((b) => b[2]), fill, 0);
}

function dots(g: number, data: number[][], color: string, size: any, opacity = 1) {
  return {
    type: "scatter",
    xAxisIndex: g * 2,
    yAxisIndex: g * 2,
    silent: true,
    symbol: "circle",
    symbolSize: size,
    data,
    itemStyle: { color, opacity },
  };
}

const axisLine = { show: true, onZero: false, lineStyle: { color: INK, width: 2 } };
const tickLine = { show: true, inside: true, length: 11, lineStyle: { color: INK, width: 1.6 } };
const labelStyle = { fontFamily: FONT, fontSize: 31, color: INK };

function panelAxes(g: number) {
  const xBase = { type: "value", gridIndex: g, min: -0.5, max: 3, interval: X_TICK_INTERVAL, splitLine: { show: false }, axisLine, axisTick: tickLine, z: 10 };
  const yBase = { type: "value", gridIndex: g, min: -2, max: 4, interval: Y_TICK_INTERVAL, splitLine: { show: false }, axisLine, axisTick: tickLine, z: 10 };
  return {
    x: [
      { ...xBase, position: "bottom", axisLabel: { ...labelStyle, margin: 12, showMinLabel: true, showMaxLabel: true } },
      { ...xBase, position: "top", axisLabel: { show: false } },
    ],
    y: [
      { ...yBase, position: "left", axisLabel: { ...labelStyle, margin: 11, padding: [0, 0, 4, 0], showMinLabel: true, showMaxLabel: true } },
      { ...yBase, position: "right", axisLabel: { show: false } },
    ],
  };
}

export default function App() {
  const ref = useRef<HTMLDivElement>(null);
  useEffect(() => {
    document.body.style.margin = "0";
    const chart = echarts.init(ref.current!, undefined, { renderer: "svg" });
    const a0 = panelAxes(0), a1 = panelAxes(1), a2 = panelAxes(2);
    const cbX = { type: "value", gridIndex: 3, min: 0, max: 1, splitLine: { show: false }, axisLine, axisTick: { show: false }, axisLabel: { show: false }, z: 10 };
    const cbY = { type: "value", gridIndex: 3, min: CB_MIN, max: CB_MAX, interval: 1, splitLine: { show: false }, axisLine, z: 10 };

    const topAll = [...TOP_UPPER, ...TOP_LOWER, ...TOP_COLUMN];
    const series: any[] = [
      // top
      bandSeries(0, TOP_BAND, "#000000"),
      dots(0, topAll, "#000000", 6),
      dots(0, TOP_GAPS, "#ffffff", 3),
      // middle
      dots(1, topAll, "#1585d8", [12, 6.5]),
      dots(1, topAll, "#0aa5d0", [8.5, 4.5]),
      polySeries(1, STREAM_X, STREAM_LO, STREAM_HI, "#16a6c0", 0),
      polySeries(1, STREAM_CORE_X, STREAM_CORE_LO, STREAM_CORE_HI, "#52b99a", 0),
      polySeries(1, LEVEL_X, LEVEL_A_LO, LEVEL_A_HI, "#1a80d8"),
      polySeries(1, LEVEL_X, LEVEL_B_LO, LEVEL_B_HI, "#0ea3c8"),
      polySeries(1, LEVEL_X, LEVEL_C_LO, LEVEL_C_HI, "#2fb3a8"),
      dots(1, MOTTLE_LIGHT, "#34b3a8", [16, 7], 0.45),
      dots(1, MOTTLE_DARK, "#1a86d4", [12, 5], 0.4),
      dots(1, TOP_GAPS, "#1a86d4", [10, 4.5], 0.45),
      polySeries(1, LEVEL_X, LEVEL_D_LO, LEVEL_D_HI, "#63bc87"),
      dots(1, MOTTLE_GREEN, "#48b796", [16, 7], 0.45),
      polySeries(1, LEVEL_X, LEVEL_E_LO, LEVEL_E_HI, "#a4bd69"),
      dots(1, MOTTLE_WARM, "#7dbd7c", [16, 7], 0.4),
      polySeries(1, LEVEL_X, LEVEL_F_LO, LEVEL_F_HI, "#d6b85a"),
      polySeries(1, LEVEL_X, LEVEL_G_LO, LEVEL_G_HI, "#e8b84a"),
      polySeries(1, HOT1_X, HOT1_LO, HOT1_HI, "#fbb536", 0.8),
      polySeries(1, HOT2_X, HOT2_LO, HOT2_HI, "#f8b53a", 0.8),
      polySeries(1, HOT3_X, HOT3_LO, HOT3_HI, "#eab74a", 0.8),
      polySeries(1, RIDGE_X, RIDGE_LO, RIDGE_HI, "#fdbd2d"),
      polySeries(1, SPIKE_OUT_X, SPIKE_OUT_LO, SPIKE_OUT_HI, "#fdbb2e", 0.8),
      polySeries(1, SPIKE_IN_X, SPIKE_IN_LO, SPIKE_IN_HI, "#f9e31d", 0.8),
      // bottom
      bandSeries(2, BOT_BAND, "#000000"),
      dots(2, [...BOT_LEFT, ...BOT_UPPER, ...BOT_UPPER2, ...BOT_LOWER], "#000000", 5.5),
      // colour bar
      {
        type: "custom",
        xAxisIndex: 6,
        yAxisIndex: 6,
        silent: true,
        data: [[0, CB_MIN]],
        renderItem: (_p: any, api: any) => {
          const a = api.coord([0, CB_MIN]);
          const b = api.coord([1, CB_MAX]);
          return {
            type: "group",
            children: [
              {
                type: "rect",
                shape: { x: a[0], y: b[1], width: b[0] - a[0], height: a[1] - b[1] },
                style: {
                  fill: new echarts.graphic.LinearGradient(0, 1, 0, 0, PARULA_STOPS.map(([offset, color]) => ({ offset: offset as number, color: color as string }))),
                },
              },
              {
                type: "line",
                shape: { x1: a[0] + 1, y1: a[1] - 7, x2: b[0] - 1, y2: b[1] + 8 },
                style: { stroke: "rgba(255,255,255,0.35)", lineWidth: 1 },
              },
            ],
          };
        },
      },
    ];

    const txt = (text: string, x: number, y: number, fontSize: number, rotation = 0) => ({
      type: "text",
      x,
      y,
      rotation,
      style: { text, fontFamily: FONT, fontSize, fill: INK, align: "left", verticalAlign: "middle" },
    });

    chart.setOption({
      animation: false,
      backgroundColor: "#ffffff",
      grid: GRIDS.map((g, i) => ({
        ...g,
        show: i === 1,
        backgroundColor: i === 1 ? HEAT_BG : "transparent",
        borderWidth: 0,
      })),
      xAxis: [
        ...a0.x, ...a1.x, ...a2.x,
        { ...cbX, position: "bottom" },
        { ...cbX, position: "top" },
      ],
      yAxis: [
        ...a0.y, ...a1.y, ...a2.y,
        { ...cbY, position: "left", axisTick: { show: false }, axisLabel: { show: false } },
        {
          ...cbY,
          position: "right",
          axisTick: { show: true, inside: true, length: 4, lineStyle: { color: INK, width: 1.6 } },
          axisLabel: { ...labelStyle, margin: 11, showMaxLabel: false },
        },
      ],
      series,
      graphic: [
        txt("Log", 422, 987, 32),
        txt("10", 478, 1003, 24),
        txt("Orbital Period (days)", 516, 987, 32),
        txt("Log", 27, 712, 32, Math.PI / 2),
        txt("10", 44, 656, 24, Math.PI / 2),
        txt("Planet Radius (Earth Radii)", 27, 619, 32, Math.PI / 2),
      ],
    });
    return () => chart.dispose();
  }, []);
  return <div ref={ref} style={{ position: "absolute", left: 0, top: 0, width: 1265, height: 1018 }} />;
}
